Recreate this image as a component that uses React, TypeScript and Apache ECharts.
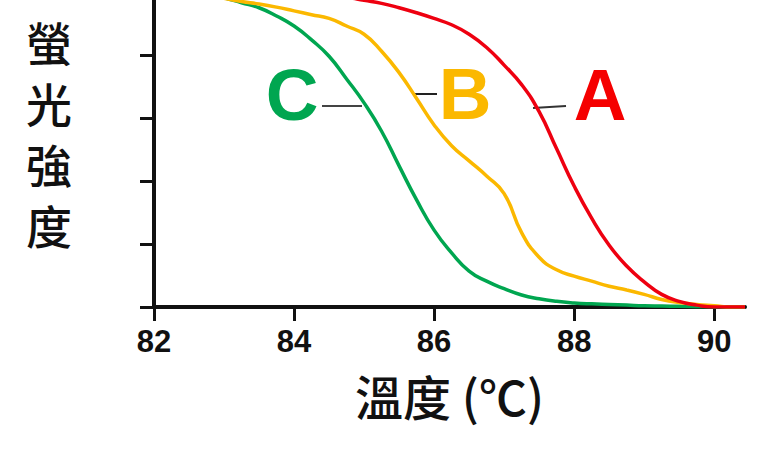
import React, { useEffect, useRef } from "react";
import * as echarts from "echarts";

// Tick labels
const xTicks = [82, 84, 86, 88, 90];
const yTicks = [0, 1, 2, 3, 4];

// Temperatures (°C) at which the curves were read
const temps = [
  82, 82.25, 82.5, 82.75, 83, 83.25, 83.5, 83.75, 84, 84.25, 84.5, 84.75,
  85, 85.25, 85.5, 85.75, 86, 86.25, 86.5, 86.75, 87, 87.25, 87.5, 87.75,
  88, 88.25, 88.5, 88.75, 89, 89.25, 89.5, 89.75, 90, 90.25, 90.44,
];

// Series A (red)
const aValues = [
  5.45, 5.42, 5.38, 5.34, 5.3, 5.26, 5.21, 5.16, 5.1, 5.04, 4.98, 4.92,
  4.87, 4.82, 4.75, 4.67, 4.58, 4.48, 4.33, 4.12, 3.84, 3.53, 3.1, 2.51,
  1.92, 1.41, 0.98, 0.65, 0.4, 0.2, 0.09, 0.03, 0.0, 0.0, 0.0,
];

// Series B (yellow)
const bValues = [
  5.15, 5.09, 5.02, 4.96, 4.9, 4.85, 4.81, 4.76, 4.7, 4.64, 4.58, 4.46,
  4.33, 4.06, 3.72, 3.31, 2.89, 2.56, 2.32, 2.08, 1.8, 1.18, 0.79, 0.59,
  0.49, 0.41, 0.33, 0.27, 0.2, 0.12, 0.07, 0.04, 0.02, 0.0, 0.0,
];

// Series C (green)
const cValues = [
  5.2, 5.14, 5.06, 4.98, 4.91, 4.83, 4.75, 4.62, 4.46, 4.24, 3.98, 3.62,
  3.24, 2.79, 2.24, 1.7, 1.22, 0.86, 0.57, 0.41, 0.29, 0.19, 0.13, 0.09,
  0.065, 0.05, 0.04, 0.03, 0.02, 0.015, 0.01, 0.005, 0.0, 0.0, 0.0,
];

const seriesNames = ["C", "B", "A"];
const xTitle = "溫度 (℃)";
const yTitle = "螢光強度";

const RED = "#ee0010";
const YELLOW = "#fbb800";
const GREEN = "#00a650";

function zip(xs: number[], ys: number[]) {
  return xs.map((x, i) => [x, ys[i]]);
}

export default function App() {
  const ref = useRef<HTMLDivElement>(null);
  useEffect(() => {
    if (!ref.current) return;
    const chart = echarts.init(ref.current, null, { renderer: "svg" });
    const lineSeries = (name: string, data: number[][], color: string) => ({
      name,
      type: "line",
      data,
      smooth: 0.5,
      symbol: "none",
      clip: true,
      lineStyle: { color, width: 3.5 },
    });
    const letter = (text: string, x: number, y: number, fill: string) => ({
      type: "text",
      x,
      y,
      style: {
        text,
        font: "bold 73px 'Liberation Sans'",
        fill,
        align: "center",
        verticalAlign: "middle",
        textAlign: "center",
        textVerticalAlign: "middle",
      },
    });
    chart.setOption({
      animation: false,
      backgroundColor: "#ffffff",
      grid: { left: 154, right: 23, top: 0, bottom: 145, containLabel: false },
      xAxis: {
        type: "value",
        min: 82,
        max: 90.44,
        interval: 2,
        name: xTitle,
        nameLocation: "middle",
        nameGap: 64,
        nameTextStyle: {
          fontFamily: "Noto Sans CJK TC",
          fontSize: 48,
          fontWeight: 500,
          color: "#111",
        },
        axisLine: { show: true, onZero: false, lineStyle: { color: "#111", width: 4 } },
        axisTick: { show: true, inside: false, length: 14, lineStyle: { color: "#111", width: 3 }, customValues: xTicks },
        axisLabel: {
          customValues: xTicks,
          margin: 19,
          fontFamily: "Liberation Sans",
          fontWeight: "bold",
          fontSize: 31,
          color: "#111",
        },
        splitLine: { show: false },
      },
      yAxis: {
        type: "value",
        min: 0,
        max: 4.873,
        interval: 1,
        axisLine: { show: true, lineStyle: { color: "#111", width: 4 } },
        axisTick: { show: true, inside: false, length: 14, lineStyle: { color: "#111", width: 3 }, customValues: yTicks },
        axisLabel: { show: false },
        splitLine: { show: false },
      },
      series: [
        lineSeries(seriesNames[0], zip(temps, cValues), GREEN),
        lineSeries(seriesNames[1], zip(temps, bValues), YELLOW),
        lineSeries(seriesNames[2], zip(temps, aValues), RED),
      ],
      graphic: [
        {
          type: "text",
          x: 49,
          y: 132,
          style: {
            text: yTitle.split("").join("\n"),
            font: "500 46px 'Noto Sans CJK TC'",
            lineHeight: 61,
            fill: "#111",
            align: "center",
            verticalAlign: "middle",
            textAlign: "center",
            textVerticalAlign: "middle",
          },
        },
        { type: "line", shape: { x1: 322, y1: 106, x2: 362, y2: 106 }, style: { stroke: "#444", lineWidth: 2 } },
        { type: "line", shape: { x1: 413, y1: 94, x2: 437, y2: 94 }, style: { stroke: "#222", lineWidth: 2 } },
        { type: "line", shape: { x1: 533, y1: 108, x2: 566, y2: 106 }, style: { stroke: "#333", lineWidth: 2 } },
        letter("C", 292, 94, GREEN),
        letter("B", 465, 93, YELLOW),
        letter("A", 600, 94, "#f50000"),
      ],
    });
    return () => chart.dispose();
  }, []);
  return (
    <div
      ref={ref}
      style={{ position: "fixed", left: 0, top: 0, width: 768, height: 452, background: "#fff" }}
    />
  );
}
